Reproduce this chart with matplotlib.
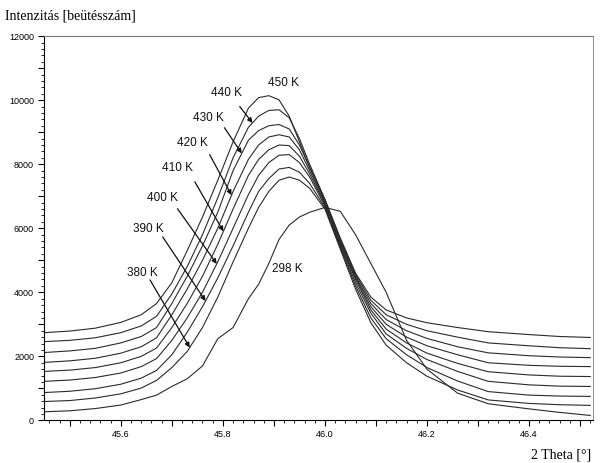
import numpy as np
import matplotlib
matplotlib.use("Agg")
from matplotlib import pyplot as plt
from matplotlib.ticker import MultipleLocator

# 2 Theta grid shared by all scans
theta = [45.45, 45.50, 45.55, 45.60, 45.64, 45.67, 45.70, 45.73, 45.76, 45.79,
         45.82, 45.85, 45.87, 45.89, 45.91, 45.93, 45.95, 45.97, 46.00, 46.03,
         46.06, 46.09, 46.12, 46.16, 46.20, 46.26, 46.32, 46.40, 46.46, 46.52]

i_450 = [2740, 2790, 2880, 3060, 3300, 3650, 4300, 5300, 6350, 7500,
         8700, 9750, 10080, 10140, 10010, 9500, 8700, 7900, 6900, 5700,
         4600, 3850, 3450, 3200, 3050, 2900, 2770, 2680, 2620, 2590]
i_440 = [2460, 2500, 2580, 2740, 2950, 3250, 3950, 4800, 5800, 6950,
         8200, 9150, 9500, 9680, 9700, 9450, 8800, 8000, 6900, 5650,
         4550, 3750, 3300, 3000, 2800, 2600, 2420, 2330, 2270, 2240]
i_430 = [2120, 2170, 2250, 2420, 2620, 2900, 3650, 4500, 5450, 6500,
         7800, 8750, 9050, 9200, 9240, 9100, 8600, 7900, 6850, 5600,
         4500, 3650, 3150, 2800, 2560, 2300, 2110, 2020, 1980, 1960]
i_420 = [1810, 1860, 1940, 2100, 2300, 2580, 3300, 4100, 5000, 6000,
         7150, 8150, 8600, 8850, 8920, 8850, 8450, 7800, 6800, 5550,
         4450, 3550, 3000, 2600, 2330, 2050, 1800, 1720, 1690, 1680]
i_410 = [1530, 1570, 1650, 1800, 2000, 2260, 2900, 3650, 4500, 5500,
         6600, 7650, 8150, 8450, 8600, 8580, 8250, 7700, 6750, 5500,
         4400, 3450, 2850, 2420, 2100, 1780, 1520, 1420, 1380, 1370]
i_400 = [1220, 1260, 1340, 1480, 1680, 1930, 2500, 3200, 4000, 4950,
         6000, 7050, 7650, 8050, 8280, 8300, 8050, 7600, 6700, 5450,
         4300, 3350, 2700, 2250, 1900, 1530, 1220, 1110, 1070, 1060]
i_390 = [870, 910, 990, 1130, 1320, 1560, 2050, 2750, 3550, 4450,
         5450, 6500, 7150, 7550, 7850, 7900, 7750, 7400, 6650, 5400,
         4200, 3200, 2550, 2050, 1650, 1230, 900, 790, 760, 750]
i_380 = [590, 620, 700, 830, 1010, 1250, 1650, 2150, 2900, 3850,
         4950, 6000, 6650, 7150, 7500, 7600, 7500, 7250, 6600, 5350,
         4100, 3050, 2350, 1800, 1380, 950, 640, 530, 490, 470]
i_298 = [270, 300, 370, 480, 650, 790, 1060, 1300, 1700, 2550,
         2900, 3800, 4250, 4900, 5650, 6100, 6350, 6500, 6650, 6530,
         5800, 4900, 4000, 2500, 1600, 850, 520, 360, 250, 155]

scans = [i_450, i_440, i_430, i_420, i_410, i_400, i_390, i_380, i_298]

# label text, label position, arrow start, arrow tip x (tip y taken from the curve)
labels = ["450 K", "440 K", "430 K", "420 K", "410 K", "400 K", "390 K", "380 K"]
label_pos = [(45.919, 10550), (45.807, 10230), (45.772, 9450), (45.741, 8670),
             (45.711, 7890), (45.682, 6950), (45.653, 5980), (45.643, 4610)]
arrow_start = [None, (45.833, 9800), (45.803, 9140), (45.774, 8300),
               (45.745, 7450), (45.711, 6610), (45.682, 5730), (45.657, 4390)]
arrow_tip_x = [None, 45.858, 45.837, 45.817, 45.801, 45.788, 45.766, 45.735]

fig = plt.figure(figsize=(6.0, 4.63), dpi=100)
ax = fig.add_axes([0.073, 0.092, 0.915, 0.830])

for s in scans:
    ax.plot(theta, s, color="#2a2a2a", linewidth=0.8)

for k, lab in enumerate(labels):
    ax.text(*label_pos[k], lab, ha="center", va="center", fontsize=8.5,
            family="Liberation Sans", color="#111111")
    if arrow_start[k] is not None:
        tx = arrow_tip_x[k]
        ty = np.interp(tx, theta, scans[k])
        ax.annotate("", xy=(tx, ty), xytext=arrow_start[k],
                    arrowprops=dict(arrowstyle="-|>", color="#111111", lw=0.9,
                                    mutation_scale=7, shrinkA=0, shrinkB=0))
ax.text(45.927, 4730, "298 K", ha="center", va="center", fontsize=8.5,
        family="Liberation Sans", color="#111111")

ax.set_xlim(45.449, 46.525)
ax.set_ylim(0, 12000)
ax.xaxis.set_major_locator(MultipleLocator(0.1))
ax.xaxis.set_minor_locator(MultipleLocator(0.02))
ax.yaxis.set_major_locator(MultipleLocator(1000))
ax.yaxis.set_minor_locator(MultipleLocator(200))
xt = ax.get_xticks()
ax.set_xticklabels([f"{v:.1f}" if abs(round(v * 10) % 2) == 0 else "" for v in xt])
yt = ax.get_yticks()
ax.set_yticklabels([f"{int(v)}" if int(round(v)) % 2000 == 0 else "" for v in yt])
ax.tick_params(which="major", length=4, width=0.8, labelsize=6.5, pad=3)
ax.tick_params(which="minor", length=2, width=0.6)
for lab in ax.get_xticklabels() + ax.get_yticklabels():
    lab.set_family("Liberation Sans")

ax.spines["top"].set_linestyle((0, (1, 1)))
ax.spines["top"].set_color("#777777")
ax.spines["right"].set_color("#777777")
ax.spines["right"].set_linewidth(0.6)

fig.text(0.008, 0.965, "Intenzitás [beütésszám]", fontsize=10,
         family="Liberation Serif", ha="left", va="center")
fig.text(0.985, 0.018, "2 Theta [°]", fontsize=10,
         family="Liberation Serif", ha="right", va="center")

fig.savefig("out.png", dpi=100)
